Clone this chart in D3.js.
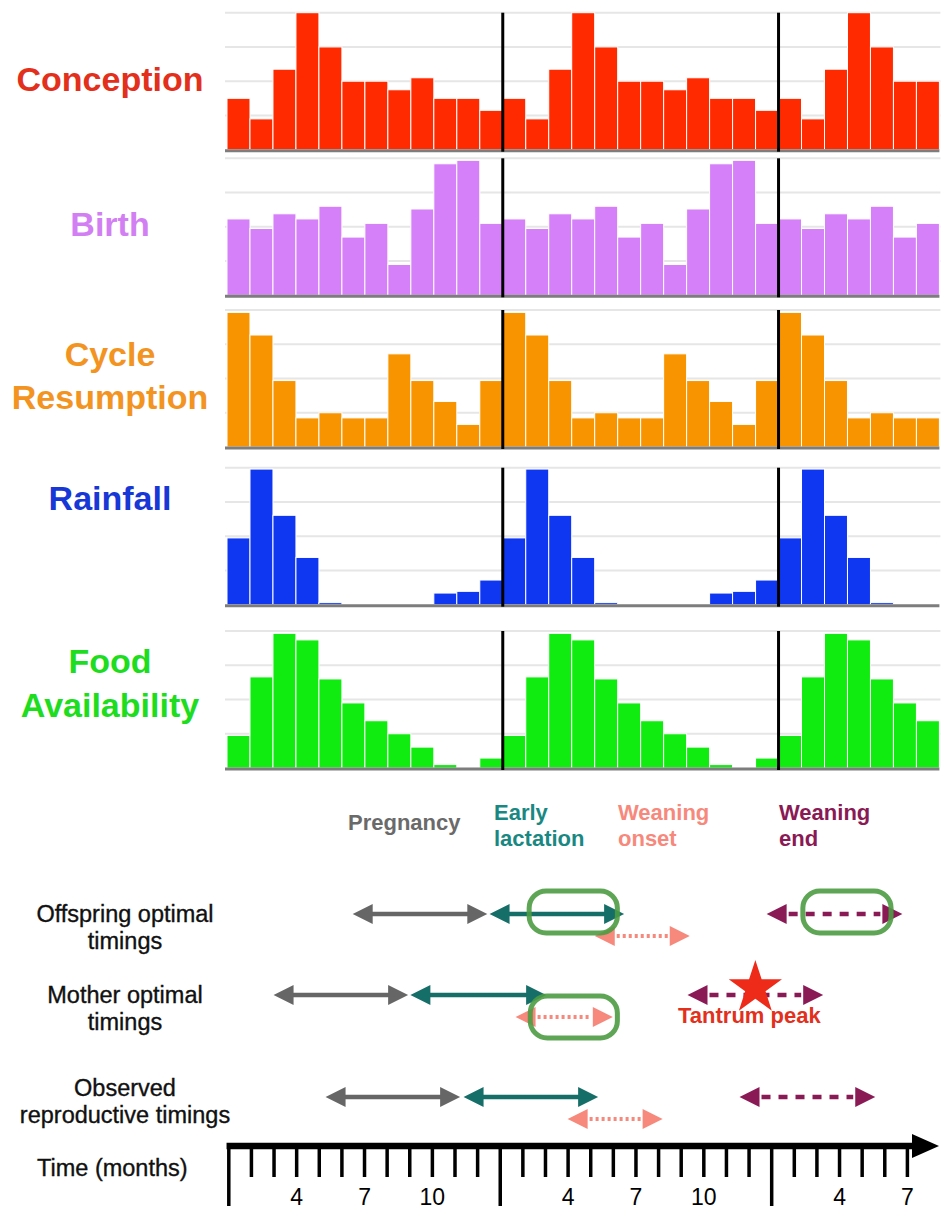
<!DOCTYPE html>
<html>
<head>
<meta charset="utf-8">
<script src="https://cdn.jsdelivr.net/npm/d3@7"></script>
<style>
  body { margin: 0; background: #fff; }
  text { font-family: "Liberation Sans", Arial, Helvetica, sans-serif; }
</style>
</head>
<body>
<div id="chart"></div>
<script>
// Monthly values (month 1..12), relative scale 0-4, repeated over the time line
var conception = [1.5, 0.9, 2.35, 4, 3, 2, 2, 1.75, 2.1, 1.5, 1.5, 1.15];
var birth = [2.23, 1.95, 2.38, 2.23, 2.6, 1.7, 2.1, 0.9, 2.52, 3.84, 3.94, 2.1];
var cycleResumption = [3.93, 3.27, 1.94, 0.85, 1.0, 0.85, 0.85, 2.72, 1.94, 1.33, 0.66, 1.94];
var rainfall = [1.95, 3.96, 2.61, 1.38, 0.06, 0, 0, 0, 0.02, 0.34, 0.39, 0.72];
var foodAvailability = [0.95, 2.66, 3.93, 3.74, 2.6, 1.9, 1.38, 1.0, 0.61, 0.1, 0, 0.29];

var panelNames = ["Conception", "Birth", "Cycle Resumption", "Rainfall", "Food Availability"];
var panelSeries = [conception, birth, cycleResumption, rainfall, foodAvailability];

// Reproductive phases, [start month, end month] on the time line
var phases = ["Pregnancy", "Early lactation", "Weaning onset", "Weaning end"];
var rowNames = ["Offspring optimal timings", "Mother optimal timings", "Observed reproductive timings"];
var offspringTimings = [[5.5, 11.45], [11.55, 17.5], [16.2, 20.4], [23.8, 29.8]];
var motherTimings = [[2, 7.95], [8.05, 14.05], [12.7, 17], [20.3, 26.3]];
var observedTimings = [[4.3, 10.25], [10.4, 16.35], [15, 19.2], [22.6, 28.6]];
var offspringHighlights = [[13.3, 17.2], [25.4, 29.3]];
var motherHighlights = [[13.35, 17.2]];
var observedHighlights = [];
var tantrumPeak = 23.3;

// Time axis
var totalMonths = 31;
var yearStarts = [0, 12, 24];
var labelMonths = [3, 6, 9, 15, 18, 21, 27, 30];
var labelTexts = ["4", "7", "10", "4", "7", "10", "4", "7"];

// ---- styling / layout ----
var svgWidth = 947;
var svgHeight = 1225;
var panelTops = [12.7, 158.3, 310, 467.7, 631];
var panelHeight = 137;
var barColors = ["#ff2a00", "#d580f8", "#f89400", "#0f37f2", "#10ec10"];
var labelColors = ["#e2301c", "#d27ff3", "#f2941f", "#1737d6", "#1edc1e"];
var labelLines = [["Conception"], ["Birth"], ["Cycle", "Resumption"], ["Rainfall"], ["Food", "Availability"]];
var labelBaselines = [[91], [236], [366, 409], [510], [673, 717]];

var phaseColors = ["#666666", "#166e68", "#f6897c", "#8a1a55"];
var phaseTextColors = ["#6a6a6a", "#1a8882", "#f6897c", "#8a1a55"];
var phaseDash = [null, null, "3,3", "9,8"];
var rowY = [914, 995, 1097];

var svg = d3.select("#chart").append("svg")
    .attr("width", svgWidth)
    .attr("height", svgHeight);

svg.append("rect").attr("width", svgWidth).attr("height", svgHeight).attr("fill", "#fff");

var x = d3.scaleLinear().domain([0, totalMonths]).range([227, 939.4]);
var y = d3.scaleLinear().domain([0, 4]).range([panelHeight, 0]);

panelSeries.forEach(function(values, p) {
    var g = svg.append("g").attr("transform", `translate(0, ${panelTops[p]})`);

    // gridlines
    g.selectAll(".grid").data([1, 2, 3, 4]).enter().append("line")
        .attr("x1", x(0) - 2).attr("x2", x(totalMonths) + 1)
        .attr("y1", d => y(d)).attr("y2", d => y(d))
        .attr("stroke", "#e6e6e6").attr("stroke-width", 2);

    var bars = d3.range(totalMonths).map(i => ({ m: i, v: values[i % 12] }));
    g.selectAll(".bar").data(bars.filter(d => d.v > 0)).enter().append("rect")
        .attr("x", d => x(d.m))
        .attr("y", d => y(d.v))
        .attr("width", d => x(d.m + 1) - x(d.m))
        .attr("height", d => y(0) - y(d.v))
        .attr("fill", barColors[p])
        .attr("stroke", "#fff")
        .attr("stroke-width", 1);

    // baseline
    g.append("line")
        .attr("x1", x(0) - 2).attr("x2", x(totalMonths))
        .attr("y1", y(0) + 1).attr("y2", y(0) + 1)
        .attr("stroke", "#7d7d7d").attr("stroke-width", 3);

    // year dividers
    g.selectAll(".divider").data([12, 24]).enter().append("line")
        .attr("x1", d => x(d)).attr("x2", d => x(d))
        .attr("y1", y(4)).attr("y2", y(0) + 2)
        .attr("stroke", "#000").attr("stroke-width", 3);

    // label
    var t = svg.append("text")
        .attr("text-anchor", "middle")
        .attr("font-size", 34)
        .attr("font-weight", "bold")
        .attr("fill", labelColors[p]);
    labelLines[p].forEach(function(line, k) {
        t.append("tspan").attr("x", 110).attr("y", labelBaselines[p][k]).text(line);
    });
});

// ---- bottom: reproductive timings ----
var tx = d3.scaleLinear().domain([0, totalMonths]).range([228.3, 228.3 + totalMonths * 22.62]);

// phase titles
var phaseTitleX = [348, 494, 618, 779];
var phaseTitleLines = [["Pregnancy"], ["Early", "lactation"], ["Weaning", "onset"], ["Weaning", "end"]];
var phaseTitleY = [[830], [820, 846], [820, 846], [820, 846]];
phaseTitleLines.forEach(function(lines, i) {
    var t = svg.append("text")
        .attr("font-size", 22)
        .attr("font-weight", "bold")
        .attr("fill", phaseTextColors[i]);
    lines.forEach(function(line, k) {
        t.append("tspan").attr("x", phaseTitleX[i]).attr("y", phaseTitleY[i][k]).text(line);
    });
});

// row labels
var rowLabelLines = [["Offspring optimal", "timings"], ["Mother optimal", "timings"], ["Observed", "reproductive timings"]];
rowLabelLines.forEach(function(lines, r) {
    var t = svg.append("text")
        .attr("text-anchor", "middle")
        .attr("font-size", 23.5)
        .attr("fill", "#111")
        .attr("stroke", "#111")
        .attr("stroke-width", 0.35);
    lines.forEach(function(line, k) {
        t.append("tspan").attr("x", 125).attr("y", rowY[r] + 8 + k * 27 - (r === 2 ? 9 : 0)).text(line);
    });
});

function drawArrow(g, span, yy, i) {
    var x0 = tx(span[0]), x1 = tx(span[1]);
    var head = 20, half = 10;
    g.append("line")
        .attr("x1", x0 + head + (phaseDash[i] ? 2 : -2))
        .attr("x2", x1 - head - (phaseDash[i] ? 2 : -2))
        .attr("y1", yy).attr("y2", yy)
        .attr("stroke", phaseColors[i])
        .attr("stroke-width", i === 2 ? 4 : 4.5)
        .attr("stroke-dasharray", phaseDash[i]);
    g.append("path")
        .attr("d", `M${x0},${yy}L${x0 + head},${yy - half}L${x0 + head},${yy + half}Z`)
        .attr("fill", phaseColors[i]);
    g.append("path")
        .attr("d", `M${x1},${yy}L${x1 - head},${yy - half}L${x1 - head},${yy + half}Z`)
        .attr("fill", phaseColors[i]);
}

var rows = [offspringTimings, motherTimings, observedTimings];
var highlights = [offspringHighlights, motherHighlights, observedHighlights];
var highlightTop = [[891, 933], [996, 1038], []];

rows.forEach(function(spans, r) {
    var g = svg.append("g");
    spans.forEach(function(span, i) {
        var yy = i === 2 ? rowY[r] + 22 : rowY[r];
        drawArrow(g, span, yy, i);
    });
    highlights[r].forEach(function(h) {
        g.append("rect")
            .attr("x", tx(h[0])).attr("width", tx(h[1]) - tx(h[0]))
            .attr("y", highlightTop[r][0]).attr("height", highlightTop[r][1] - highlightTop[r][0])
            .attr("rx", 17)
            .attr("fill", "none")
            .attr("stroke", "#4d9c42")
            .attr("stroke-opacity", 0.9)
            .attr("stroke-width", 5);
    });
});

// tantrum peak
svg.append("path")
    .attr("d", d3.symbol().type(d3.symbolStar).size(28 * 28 / 0.8908130915292852)())
    .attr("transform", `translate(${tx(tantrumPeak)}, 988)`)
    .attr("fill", "#ee2a18");
svg.append("text")
    .attr("x", tx(tantrumPeak) - 6).attr("y", 1023)
    .attr("text-anchor", "middle")
    .attr("font-size", 22)
    .attr("font-weight", "bold")
    .attr("fill", "#e2301c")
    .text("Tantrum peak");

// time axis
var axisY = 1146;
var axisG = svg.append("g").attr("transform", `translate(0, ${axisY})`);

var minorAxis = d3.axisBottom(tx)
    .tickValues(d3.range(1, totalMonths).filter(d => yearStarts.indexOf(d) < 0))
    .tickSize(31).tickFormat("");
var majorAxis = d3.axisBottom(tx).tickValues(yearStarts).tickSize(60).tickFormat("");
var labelAxis = d3.axisBottom(tx).tickValues(labelMonths).tickSize(0).tickPadding(43)
    .tickFormat((d, i) => labelTexts[i]);

[minorAxis, majorAxis, labelAxis].forEach(function(ax) {
    var a = axisG.append("g").call(ax);
    a.select(".domain").remove();
    a.selectAll("line").attr("stroke", "#000").attr("stroke-width", 3.5);
    a.selectAll("text").attr("font-size", 23).attr("fill", "#000")
        .attr("font-family", "\"Liberation Sans\", Arial, sans-serif");
});

axisG.append("line")
    .attr("x1", tx(0) - 1.75).attr("x2", 914)
    .attr("y1", 0).attr("y2", 0)
    .attr("stroke", "#000").attr("stroke-width", 6.5);
axisG.append("path")
    .attr("d", "M912,-12L939,0L912,12Z")
    .attr("fill", "#000");

svg.append("text")
    .attr("x", 37).attr("y", 1176)
    .attr("font-size", 23.5)
    .attr("fill", "#111")
    .attr("stroke", "#111")
    .attr("stroke-width", 0.35)
    .text("Time (months)");
</script>
</body>
</html>
